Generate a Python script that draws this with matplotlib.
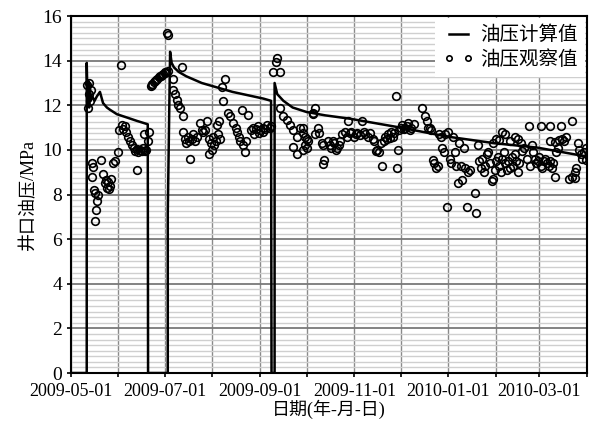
import numpy as np
import matplotlib.pyplot as plt
import matplotlib.dates as mdates
from matplotlib.ticker import MultipleLocator

plt.rcParams['font.family'] = ['Liberation Serif', 'Noto Sans CJK SC']
plt.rcParams['axes.unicode_minus'] = False

# --- data (days counted from 2009-05-01) ---
start = np.datetime64('2009-05-01')

calc_day = [0, 10.4, 10.4, 11, 11.5, 12, 12.5, 13, 14, 15.5, 17, 19, 21, 23.5, 25.5, 30,
            36.6, 43, 50, 50.2, 63, 63, 64.5, 65.5, 67, 70, 75, 85, 95, 105, 115, 125,
            130, 130.3, 132.3, 132.3, 134, 138, 144, 153, 165, 181, 214, 244, 275, 303, 335]
calc_val = [0, 0, 13.9, 12.0, 13.1, 11.9, 12.9, 12.2, 12.4, 12.2, 12.4, 12.6, 12.1, 11.9, 11.8, 11.6,
            11.45, 11.3, 11.15, 0, 0, 7.2, 14.4, 13.9, 13.7, 13.5, 13.3, 13.0, 12.8, 12.6, 12.45, 12.3,
            12.2, 0, 0, 13.0, 12.5, 12.2, 11.9, 11.7, 11.55, 11.4, 11.0, 10.6, 10.3, 10.1, 9.7]

obs_day = [
    # May - June
    10.5, 11.0, 11.6, 12.2, 12.8, 13.4, 13.8, 14.5, 13.6, 15.0, 15.8, 17.1, 17.7, 16.6, 15.6,
    19.5, 21.0, 22.0, 22.8, 23.6, 24.4, 25.2, 26.0, 24.8, 27.5, 28.5, 30.5, 31.5, 32.7, 33.0,
    34.0, 35.0, 36.0, 37.2, 38.5, 40.0, 41.0, 42.0, 43.0, 44.0, 45.0, 46.0, 47.0, 48.0, 49.0,
    43.0, 47.5, 50.0, 51.0,
    # shut-in build-up and July restart
    52, 53, 54, 55, 56, 57, 58, 59, 60, 61, 62, 63, 52.5, 55.5, 58.5, 61.5, 62.3, 63.3,
    66.6, 72, 66.6, 67.7, 68.8, 69.7, 71, 72.7,
    # July - September
    73, 74.2, 75, 76, 77, 77.5, 78.5, 79.5, 80.5, 82, 84, 85, 86, 87, 88.5, 89.5, 90, 91, 92,
    92.5, 93, 94, 95, 95.5, 96, 97, 98, 98.5, 100, 102, 103.5, 105, 107, 108, 109, 110, 111,
    112, 113, 114, 115, 117, 118.5, 120, 121.5, 123, 124.5, 126, 127.5, 129, 130, 119, 122, 125,
    # September restart
    131, 133, 134, 135.5, 136, 138, 140.5, 142.4, 144.4, 147, 149, 151, 153, 147, 144.4, 152,
    # October - December
    150.5, 152, 153, 154, 151, 158.5, 157, 157.5, 160.5, 158.5, 161, 163, 164, 164.5, 164,
    167, 168, 169, 170, 171, 172, 173, 174, 175, 176, 178, 179, 180, 181, 182, 184, 185, 186,
    188, 189, 190, 191, 193, 194, 196, 197, 198, 199, 200, 201, 202, 203, 204, 205, 206, 207,
    208, 209, 210, 211, 212, 212.5, 213, 214, 215, 216, 217, 218, 219, 220, 221, 223, 228,
    230, 231, 232, 233, 234, 235, 236, 237, 238, 239, 240, 241, 242, 243, 244, 245, 246, 247,
    248, 249, 250, 251, 252, 253, 254, 255, 256, 257, 258, 259, 262, 263,
    # January - March
    264, 265, 266, 267, 268, 269, 270, 271, 272, 273, 274, 275, 276, 277, 278, 279, 280, 281,
    282, 283, 284, 285, 286, 287, 288, 289, 290, 291, 274, 276, 278, 280, 282, 285, 288, 290,
    292, 294, 297, 299, 300, 301, 302, 303, 304, 305, 306, 307, 308, 309, 310, 311, 312, 313,
    305, 311, 318, 311, 314, 317, 319, 320, 321, 314, 323, 325, 327, 325.5, 329, 330, 331, 332,
    333, 334, 328, 327, 334, 336, 315, 316, 293, 296, 298]
obs_val = [
    12.9, 11.9, 12.5, 13.0, 12.2, 12.7, 9.4, 9.25, 8.8, 8.2, 8.05, 7.7, 8.0, 7.3, 6.8,
    9.55, 8.9, 8.5, 8.65, 8.3, 8.55, 8.4, 8.7, 8.25, 9.4, 9.5, 9.9, 10.9, 13.8, 11.1,
    10.95, 11.05, 10.8, 10.6, 10.4, 10.2, 10.1, 9.95, 10.05, 9.9, 10.0, 9.95, 10.1, 9.95, 10.0,
    9.1, 10.7, 10.4, 10.8,
    12.85, 12.95, 13.05, 13.1, 13.2, 13.25, 13.3, 13.35, 13.4, 13.45, 13.5, 13.55, 12.9, 13.15,
    13.3, 13.5, 15.25, 15.15,
    13.2, 13.7, 12.7, 12.5, 12.25, 12.0, 11.9, 11.5,
    10.8, 10.5, 10.3, 10.6, 10.4, 9.6, 10.5, 10.7, 10.4, 10.6, 11.2, 10.9, 10.8, 10.9, 11.3,
    9.8, 10.5, 10.3, 10.0, 10.6, 10.2, 10.4, 11.1, 10.7, 11.3, 10.5, 12.8, 12.2, 13.2, 11.65,
    11.5, 11.2, 11.0, 10.8, 10.6, 10.4, 11.8, 10.2, 9.9, 10.4, 11.55, 10.9, 11.0, 10.95, 11.05,
    10.9, 11.0, 10.95, 11.1, 11.0, 11.05, 10.7, 10.75, 10.8,
    13.5, 13.95, 14.1, 13.5, 11.9, 11.5, 11.35, 11.1, 10.9, 10.6, 11.0, 10.75, 10.5, 9.8, 10.15,
    10.2,
    11.0, 10.6, 10.1, 10.4, 10.0, 11.9, 11.6, 11.65, 11.0, 10.7, 10.75, 10.3, 10.2, 9.55, 9.35,
    10.4, 10.2, 10.1, 10.4, 10.3, 10.0, 10.1, 10.2, 10.4, 10.7, 10.8, 10.6, 11.3, 10.75, 10.8,
    10.6, 10.7, 10.75, 10.65, 11.3, 10.8, 10.7, 10.6, 10.75, 10.5, 10.4, 9.95, 10.0, 9.9, 10.3,
    9.3, 10.4, 10.6, 10.5, 10.7, 10.55, 10.8, 10.6, 10.75, 12.4, 9.2, 10.0, 10.9, 11.0, 11.1,
    10.95, 11.0, 11.05, 11.2, 10.9, 11.0, 11.15, 11.9, 11.5, 11.3, 11.0, 11.0, 10.9, 9.55, 9.4,
    9.2, 9.3, 10.7, 10.6, 10.1, 9.9, 10.7, 7.45, 10.8, 9.6, 9.4, 10.6, 9.9, 9.3, 8.5, 10.3, 9.3,
    8.65, 10.1, 9.2, 7.45, 9.0, 9.1, 8.05, 7.15,
    10.2, 9.5, 9.2, 9.6, 9.0, 9.3, 9.8, 9.9, 9.4, 8.6, 8.7, 9.1, 9.5, 9.7, 9.3, 9.0, 9.6, 9.9,
    9.4, 9.1, 9.5, 9.2, 9.7, 9.3, 9.8, 9.5, 9.0, 9.4, 10.3, 10.5, 10.45, 10.8, 10.7, 10.4, 10.6,
    10.5, 10.3, 10.1, 11.05, 10.2, 9.9, 9.6, 9.4, 9.5, 9.7, 9.3, 9.2, 9.5, 9.6, 9.4, 9.3, 9.5,
    9.2, 9.4, 11.05, 11.05, 11.05, 10.4, 10.35, 10.45, 10.5, 10.4, 10.6, 8.8, 8.7, 8.8, 8.75,
    11.3, 10.3, 10.0, 9.8, 9.6, 9.9, 9.55, 9.2, 9.0, 10.1, 9.7, 9.9, 10.1, 9.95, 9.6, 9.3]


def to_dates(days):
    hours = np.round(np.array(days) * 24).astype('timedelta64[h]')
    return start + hours


fig = plt.figure(figsize=(6.04, 4.28), dpi=100)
ax = fig.add_axes([0.117, 0.1285, 0.855, 0.834])

ax.plot(to_dates(obs_day), obs_val, linestyle='none', marker='o', markersize=5.5,
        mfc='none', mec='black', mew=1.2, label='油压观察值', zorder=3)
ax.plot(to_dates(calc_day), calc_val, color='black', linewidth=1.8, label='油压计算值', zorder=4)

ax.set_xlim(np.datetime64('2009-05-01'), np.datetime64('2010-04-01'))
ax.set_ylim(0, 16)

ax.xaxis.set_major_locator(mdates.MonthLocator(bymonth=[1, 3, 5, 7, 9, 11]))
ax.xaxis.set_minor_locator(mdates.MonthLocator())
ax.xaxis.set_major_formatter(mdates.DateFormatter('%Y-%m-%d'))
ax.yaxis.set_major_locator(MultipleLocator(2))
ax.yaxis.set_minor_locator(MultipleLocator(0.25))

ax.grid(which='minor', axis='y', color='#cfcfcf', linewidth=1.0, zorder=0)
ax.grid(which='major', axis='y', color='#7a7a7a', linewidth=1.3, zorder=0)
ax.grid(which='both', axis='x', color='#8a8a8a', linewidth=1.0, zorder=0)
ax.set_axisbelow(True)

ax.tick_params(axis='x', which='major', labelsize=13, direction='out', length=3, width=1.2, pad=4)
ax.tick_params(axis='y', which='major', labelsize=14, direction='out', length=3, width=1.2, pad=3)
ax.tick_params(axis='x', which='minor', direction='out', length=3, width=1.2)
ax.tick_params(axis='y', which='minor', length=0)
for s in ax.spines.values():
    s.set_linewidth(1.5)

ax.set_ylabel('井口油压/MPa', fontsize=13, labelpad=4)
ax.set_xlabel('日期(年-月-日)', fontsize=13, labelpad=0)

h, l = ax.get_legend_handles_labels()
leg = ax.legend(h[::-1], l[::-1], loc='upper right', fontsize=14, numpoints=2,
                markerscale=0.7, handlelength=1.6, handletextpad=0.3,
                borderaxespad=0.1, frameon=True, fancybox=False, labelspacing=0.3)
leg.get_frame().set_edgecolor('none')
leg.get_frame().set_facecolor('white')
leg.get_frame().set_alpha(1)

fig.savefig('out.png', dpi=100)
